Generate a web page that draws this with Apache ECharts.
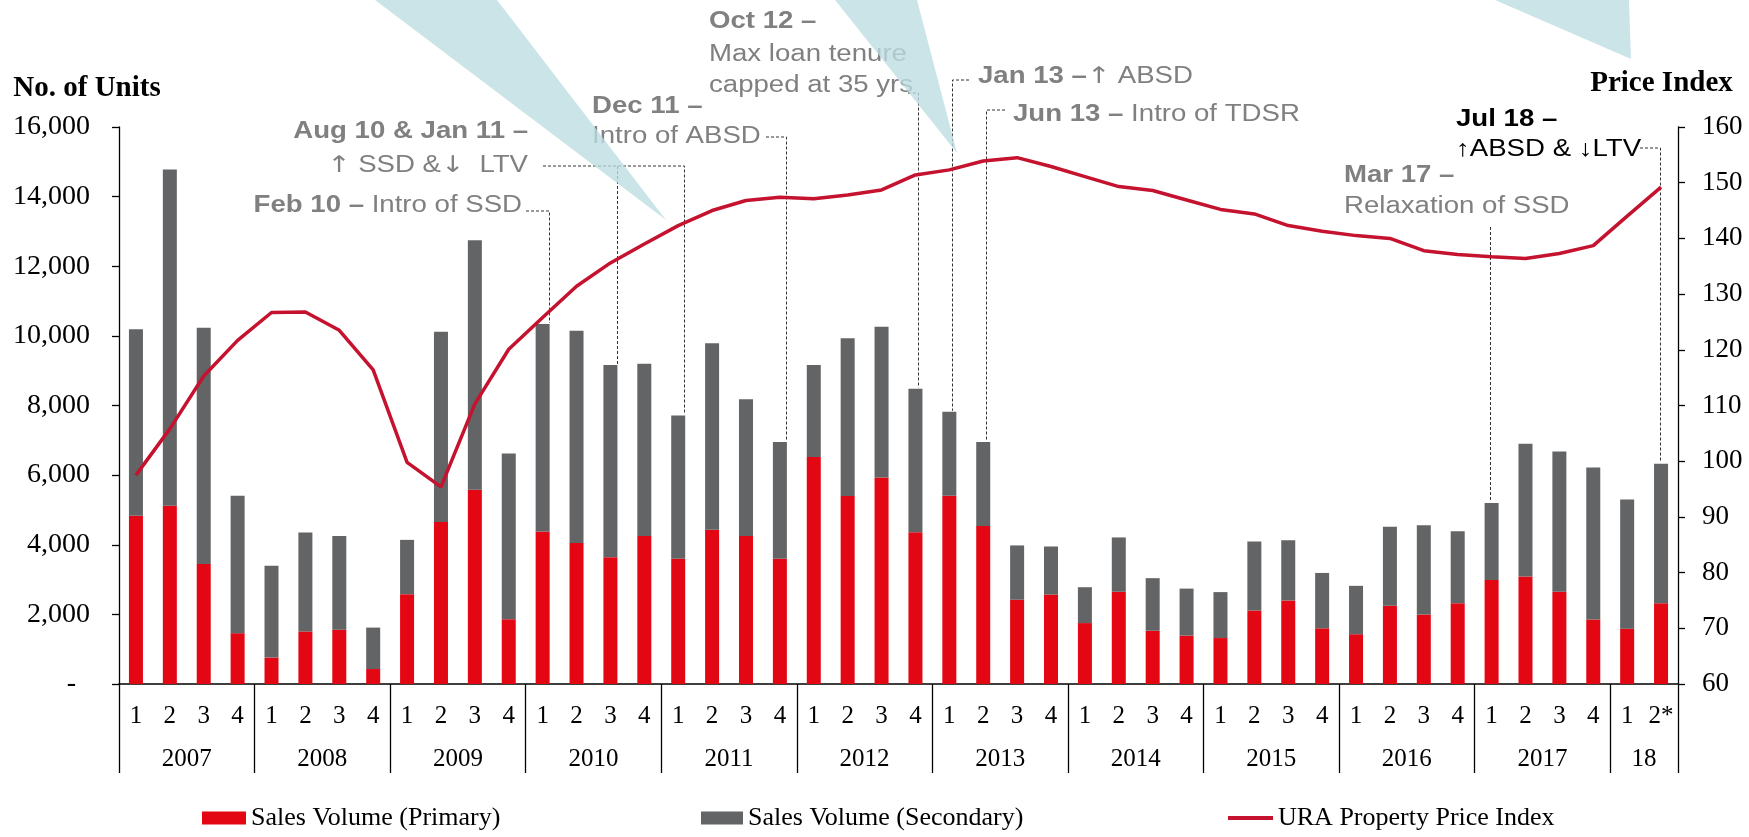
<!DOCTYPE html>
<html>
<head>
<meta charset="utf-8">
<script src="https://cdn.jsdelivr.net/npm/echarts@6/dist/echarts.min.js"></script>
<style>
html,body{margin:0;padding:0;background:#fff;}
#c{width:1749px;height:837px;}
</style>
</head>
<body>
<div id="c"></div>
<script>
// ---------------- DATA ----------------
const quarterLabels = ['1','2','3','4','1','2','3','4','1','2','3','4','1','2','3','4',
  '1','2','3','4','1','2','3','4','1','2','3','4','1','2','3','4',
  '1','2','3','4','1','2','3','4','1','2','3','4','1','2*'];
const yearLabels = ['2007','2008','2009','2010','2011','2012','2013','2014','2015','2016','2017','18'];
const yearQuarterCounts = [4,4,4,4,4,4,4,4,4,4,4,2];

const primarySales = [
  4830, 5120, 3450, 1460,
  760, 1510, 1560, 430,
  2580, 4650, 5580, 1860,
  4380, 4050, 3640, 4250,
  3600, 4430, 4250, 3600,
  6520, 5400, 5930, 4360,
  5410, 4540, 2420, 2570,
  1750, 2650, 1530, 1390,
  1320, 2110, 2400, 1600,
  1430, 2250, 2000, 2320,
  2990, 3090, 2650, 1850,
  1590, 2320
];
const secondarySales = [
  5360, 9660, 6780, 3950,
  2640, 2840, 2690, 1190,
  1560, 5470, 7170, 4760,
  5960, 6100, 5520, 4950,
  4110, 5360, 3930, 3350,
  2640, 4530, 4330, 4120,
  2410, 2410, 1560, 1380,
  1030, 1560, 1510, 1350,
  1320, 1980, 1730, 1590,
  1390, 2270, 2560, 2070,
  2210, 3810, 4030, 4370,
  3710, 4010
];
const priceIndex = [
  97.5, 105.8, 115.3, 121.7,
  126.7, 126.8, 123.5, 116.4,
  99.8, 95.4, 110.3, 120.1,
  125.8, 131.4, 135.6, 139.0,
  142.3, 145.0, 146.8, 147.4,
  147.1, 147.8, 148.7, 151.4,
  152.3, 153.9, 154.5, 152.9,
  151.1, 149.3, 148.6, 146.9,
  145.2, 144.4, 142.3, 141.3,
  140.5, 140.0, 137.8, 137.1,
  136.7, 136.4, 137.3, 138.7,
  144.0, 149.2
];

// ---------------- LAYOUT / STYLE ----------------
const SERIF = '"Liberation Serif","Times New Roman",serif';
const SANS = '"Liberation Sans",Arial,sans-serif';
const ARROW = '"DejaVu Sans","Liberation Sans",sans-serif';
const GRAY_TXT = '#808080';
const RED = '#e30613', DARK = '#636466', LINE_RED = '#c4122f';

const boundaries = [0];
yearQuarterCounts.forEach(c => boundaries.push(boundaries[boundaries.length - 1] + c));
const yearCenters = yearQuarterCounts.map((c, i) => boundaries[i] + c / 2);

function fmtUnits(v) {
  if (v === 0) return '-  ';
  return String(v).replace(/\B(?=(\d{3})+(?!\d))/g, ',');
}

const chart = echarts.init(document.getElementById('c'), null, {renderer: 'canvas'});

const legendText = {fontFamily: SERIF, fontSize: 26, color: '#000'};
const option = {
  animation: false,
  backgroundColor: '#fff',
  grid: {left: 119, right: 71, top: 127, bottom: 153, containLabel: false, outerBoundsMode: 'none'},
  legend: [
    {data: [{name: 'Sales Volume (Primary)', icon: 'rect'}], left: 202, top: 805, padding: 0,
     itemWidth: 44, itemHeight: 13, selectedMode: false, textStyle: legendText},
    {data: [{name: 'Sales Volume (Secondary)', icon: 'rect'}], left: 701, top: 805, padding: 0,
     itemWidth: 42, itemHeight: 13, selectedMode: false, textStyle: legendText},
    {data: [{name: 'URA Property Price Index', icon: 'rect'}], left: 1228, top: 805, padding: 0,
     itemWidth: 45, itemHeight: 4, selectedMode: false, textStyle: legendText}
  ],
  xAxis: [
    {
      type: 'category', data: quarterLabels, boundaryGap: true, position: 'bottom',
      axisLine: {show: true, onZero: false, lineStyle: {color: '#000', width: 1.5}},
      axisTick: {show: false},
      axisLabel: {interval: 0, margin: 20, color: '#000', fontFamily: SERIF, fontSize: 25},
      splitLine: {show: false}
    },
    {
      type: 'value', min: 0, max: boundaries[boundaries.length - 1], position: 'bottom',
      axisLine: {show: false}, splitLine: {show: false},
      axisTick: {show: true, customValues: boundaries, length: 89, inside: false,
                 lineStyle: {color: '#000', width: 1.3}},
      axisLabel: {customValues: yearCenters, margin: 63, color: '#000', fontFamily: SERIF, fontSize: 25,
                  formatter: v => { const k = yearCenters.indexOf(v); return k >= 0 ? yearLabels[k] : ''; }}
    }
  ],
  yAxis: [
    {
      type: 'value', min: 0, max: 16000, interval: 2000, position: 'left',
      name: 'No. of Units', nameLocation: 'end', nameGap: 24,
      nameTextStyle: {fontFamily: SERIF, fontWeight: 'bold', fontSize: 29, color: '#000', padding: [0, 64, 0, 0]},
      axisLine: {show: true, lineStyle: {color: '#000', width: 1.3}},
      axisTick: {show: true, inside: false, length: 7, lineStyle: {color: '#000', width: 1.3}},
      axisLabel: {margin: 29, color: '#000', fontFamily: SERIF, fontSize: 28, formatter: fmtUnits},
      splitLine: {show: false}
    },
    {
      type: 'value', min: 60, max: 160, interval: 10, position: 'right',
      name: 'Price Index', nameLocation: 'end', nameGap: 29,
      nameTextStyle: {fontFamily: SERIF, fontWeight: 'bold', fontSize: 29, color: '#000', padding: [0, 33, 0, 0]},
      axisLine: {show: true, lineStyle: {color: '#000', width: 1.3}},
      axisTick: {show: true, inside: false, length: 7, lineStyle: {color: '#000', width: 1.3}},
      axisLabel: {margin: 24, color: '#000', fontFamily: SERIF, fontSize: 27},
      splitLine: {show: false}
    }
  ],
  series: [
    {name: 'Sales Volume (Primary)', type: 'bar', stack: 'vol', data: primarySales,
     barWidth: 14, itemStyle: {color: RED}},
    {name: 'Sales Volume (Secondary)', type: 'bar', stack: 'vol', data: secondarySales,
     barWidth: 14, itemStyle: {color: DARK}},
    {name: 'URA Property Price Index', type: 'line', yAxisIndex: 1, data: priceIndex,
     symbol: 'none', showSymbol: false, z: 5,
     lineStyle: {color: LINE_RED, width: 3.5}, itemStyle: {color: LINE_RED}}
  ]
};
chart.setOption(option);

// ---------------- ANNOTATIONS ----------------
const FS = 23, SX = 1.2;
const rich = {
  b: {fontFamily: SANS, fontWeight: 'bold', fontSize: FS, fill: GRAY_TXT, color: GRAY_TXT},
  r: {fontFamily: SANS, fontWeight: 'normal', fontSize: FS, fill: GRAY_TXT, color: GRAY_TXT},
  a: {fontFamily: ARROW, fontWeight: 'normal', fontSize: FS, fill: GRAY_TXT, color: GRAY_TXT},
  k: {fontFamily: SANS, fontWeight: 'bold', fontSize: FS, fill: '#000', color: '#000'},
  kr: {fontFamily: SANS, fontWeight: 'normal', fontSize: FS, fill: '#000', color: '#000'}
};
const notes = [
  {x: 528, y: 132, align: 'right', text: '{b|Aug 10 & Jan 11 –}'},
  {x: 528, y: 166, align: 'right', text: '{a|↑}{r| SSD &}{a|↓}{r|  LTV}'},
  {x: 522, y: 206, align: 'right', text: '{b|Feb 10 –}{r| Intro of SSD}'},
  {x: 592, y: 107, align: 'left', text: '{b|Dec 11 –}'},
  {x: 592, y: 137, align: 'left', text: '{r|Intro of ABSD}'},
  {x: 709, y: 22, align: 'left', text: '{b|Oct 12 –}'},
  {x: 709, y: 55, align: 'left', text: '{r|Max loan tenure}'},
  {x: 709, y: 86, align: 'left', text: '{r|capped at 35 yrs}'},
  {x: 978, y: 77, align: 'left', text: '{b|Jan 13 –}{a|↑}{r| ABSD}'},
  {x: 1013, y: 115, align: 'left', text: '{b|Jun 13 –}{r| Intro of TDSR}'},
  {x: 1344, y: 176, align: 'left', text: '{b|Mar 17 –}'},
  {x: 1344, y: 207, align: 'left', text: '{r|Relaxation of SSD}'},
  {x: 1456, y: 120, align: 'left', text: '{k|Jul 18 –}'},
  {x: 1456, y: 150, align: 'left', text: '{kr|↑ABSD & ↓LTV}'}
];
// leader lines: bar index, pixel offset from bar centre, top y, optional horizontal segment end
const leaders = [
  {idx: 12, dx: 6, top: 211, hx: 526},
  {idx: 14, dx: 7, top: 166},
  {idx: 16, dx: 6, top: 166, hx: 543},
  {idx: 19, dx: 6, top: 137, hx: 766},
  {idx: 23, dx: 3, top: 93, hx: 908},
  {idx: 24, dx: 3, top: 80, hx: 969},
  {idx: 25, dx: 3, top: 110, hx: 1005},
  {idx: 40, dx: -2, top: 227},
  {idx: 45, dx: -1, top: 148, hx: 1640}
];
const wedges = [
  [[375, 0], [497, 0], [666, 220]],
  [[835, 0], [917, 0], [957, 153]],
  [[1495, 0], [1629, 0], [1631, 59]]
];

const graphics = [];
const dash = {stroke: '#333', lineWidth: 1, lineDash: [3, 2]};
leaders.forEach(l => {
  const total = primarySales[l.idx] + secondarySales[l.idx];
  const p = chart.convertToPixel({seriesIndex: 0}, [l.idx, total]);
  const x = Math.round(p[0] + l.dx) + 0.5;
  const yb = p[1] - 1;
  const pts = [];
  if (l.hx !== undefined) pts.push([l.hx, l.top]);
  pts.push([x, l.top]);
  pts.push([x, yb]);
  graphics.push({type: 'polyline', z: 1, silent: true, shape: {points: pts}, style: Object.assign({fill: null}, dash)});
});
notes.forEach(n => {
  graphics.push({
    type: 'text', x: n.x, y: n.y, scaleX: SX, scaleY: 1, originX: 0, originY: 0, z: 50, silent: true,
    style: {text: n.text, rich: rich, fontFamily: SANS, fontSize: FS, fill: GRAY_TXT,
            align: n.align, verticalAlign: 'middle'}
  });
});
wedges.forEach(w => {
  graphics.push({type: 'polygon', z: 100, silent: true, shape: {points: w},
                 style: {fill: 'rgba(188,220,226,0.78)', stroke: null}});
});
chart.setOption({graphic: graphics});
</script>
</body>
</html>
